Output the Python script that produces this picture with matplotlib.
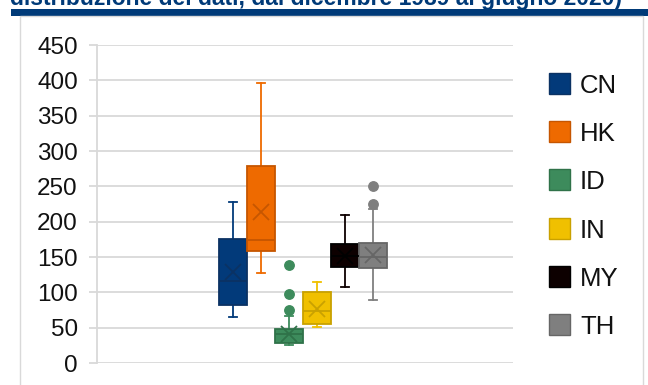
import matplotlib
matplotlib.use("Agg")
import matplotlib.pyplot as plt
from matplotlib.patches import Rectangle

plt.rcParams["font.family"] = ["Liberation Sans", "DejaVu Sans"]

# --- data -------------------------------------------------------------
title = "distribuzione dei dati, dal dicembre 1989 al giugno 2020)"
countries = ["CN", "HK", "ID", "IN", "MY", "TH"]
whisker_low = [65, 128, 26, 51, 108, 89]
q1 = [82, 159, 29, 55, 136, 135]
median = [116, 174, 41, 73, 152, 150]
q3 = [176, 279, 48, 100, 168, 170]
whisker_high = [228, 396, 66, 114, 210, 218]
mean = [129, 214, 41, 77, 152, 153]
outliers = [[], [], [75, 98, 138], [], [], [225, 250]]
y_ticks = [0, 50, 100, 150, 200, 250, 300, 350, 400, 450]

fill_colors = ["#023a7a", "#ee6a00", "#3d8b5c", "#f0c000", "#0d0000", "#7f7f7f"]
edge_colors = ["#0b3263", "#c65600", "#2f7249", "#c9a100", "#000000", "#666666"]
grid_color = "#d9d9d9"
navy = "#003a78"

# --- figure -----------------------------------------------------------
W, H = 648, 385
fig = plt.figure(figsize=(W / 100, H / 100), dpi=100)


def fx(px):
    return px / W


def fy(py):
    return 1 - py / H


# title strip (top edge of the page) and chart frame
fig.text(fx(10), fy(5.5), title, fontsize=16.5, fontweight="bold", color=navy,
         va="baseline", ha="left")
fig.patches.append(Rectangle((fx(11), fy(16)), fx(648) - fx(11), fy(9) - fy(16),
                             transform=fig.transFigure, facecolor=navy,
                             edgecolor="none"))
fig.patches.append(Rectangle((fx(20), fy(386)), fx(643) - fx(20), fy(16) - fy(386),
                             transform=fig.transFigure, facecolor="none",
                             edgecolor=grid_color, linewidth=1.0))

ax = fig.add_axes([fx(97), fy(363), fx(513) - fx(97), fy(45) - fy(363)])

stats = []
for i, name in enumerate(countries):
    stats.append(dict(label=name, whislo=whisker_low[i], q1=q1[i], med=median[i],
                      q3=q3[i], whishi=whisker_high[i], mean=mean[i],
                      fliers=outliers[i]))

positions = list(range(1, len(countries) + 1))
art = ax.bxp(stats, positions=positions, widths=1.0, patch_artist=True,
             showmeans=True, meanline=False, capwidths=0.27, manage_ticks=False)

for i in range(len(countries)):
    fc, ec = fill_colors[i], edge_colors[i]
    box = art["boxes"][i]
    box.set_facecolor(fc)
    box.set_edgecolor(ec)
    box.set_linewidth(1.3)
    box.set_zorder(3)
    art["medians"][i].set(color=ec, linewidth=1.3, zorder=4)
    for ln in art["whiskers"][2 * i:2 * i + 2] + art["caps"][2 * i:2 * i + 2]:
        ln.set(color=fc, linewidth=1.3, zorder=2)
    art["means"][i].set(marker="x", markersize=11, markeredgewidth=1.3,
                        markeredgecolor=ec, markerfacecolor=ec, zorder=5)
    art["fliers"][i].set(marker="o", markersize=6.8, markerfacecolor=fc,
                         markeredgecolor=fc, zorder=5)

ax.set_xlim(0.5 - (219 - 97) / 28, 0.5 - (219 - 97) / 28 + (513 - 97) / 28)
ax.set_ylim(0, 450)
ax.set_yticks(y_ticks)
ax.set_yticklabels([str(v) for v in y_ticks])
ax.set_xticks([])

ax.set_axisbelow(True)
ax.yaxis.grid(True, color=grid_color, linewidth=1.3)
for side in ["top", "right", "bottom"]:
    ax.spines[side].set_visible(False)
ax.spines["left"].set_color(grid_color)
ax.spines["left"].set_linewidth(1.3)
ax.tick_params(axis="y", direction="out", length=5.8, width=1.3,
               color=grid_color, labelsize=17.5, labelcolor="#111111", pad=8)
ax.patch.set_visible(False)

# legend
for i, name in enumerate(countries):
    cy = 83.5 + 48.2 * i
    fig.patches.append(Rectangle((fx(549), fy(cy + 10.5)), fx(570) - fx(549),
                                 fy(cy - 10.5) - fy(cy + 10.5),
                                 transform=fig.transFigure,
                                 facecolor=fill_colors[i],
                                 edgecolor=edge_colors[i], linewidth=1.0))
    fig.text(fx(580), fy(cy), name, fontsize=18.5, color="#111111",
             va="center_baseline", ha="left")

fig.savefig("out.png", dpi=100)
